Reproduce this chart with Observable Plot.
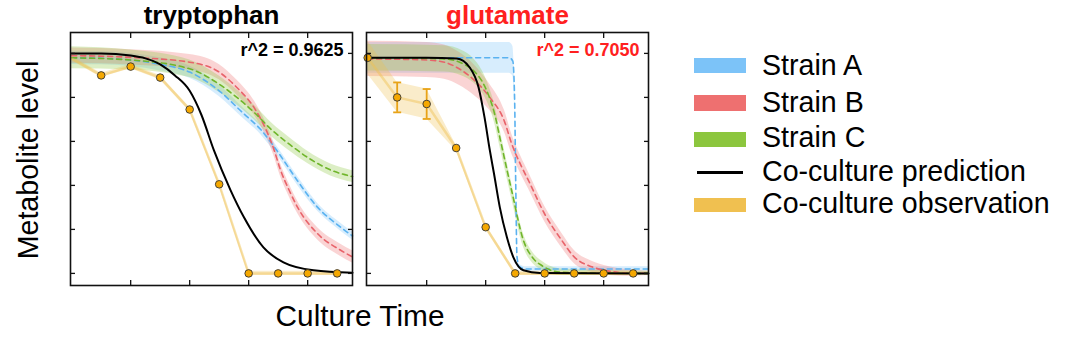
<!DOCTYPE html>
<html><head><meta charset="utf-8">
<script src="https://cdn.jsdelivr.net/npm/d3@7"></script>
<script src="https://cdn.jsdelivr.net/npm/@observablehq/plot@0.6"></script>
<style>
body{margin:0;background:#fff;font-family:"Liberation Sans",Arial,sans-serif;}
#wrap{position:relative;width:1073px;height:351px;overflow:hidden;background:#fff;}
.abs{position:absolute;white-space:nowrap;color:#000;}
.lbl{font-size:28.6px;line-height:28px;}
</style></head><body><div id="wrap"></div>
<script>
// ---------- data: [time, level, half-width of band] ----------
const panelTitles = ["tryptophan", "glutamate"];
const panelR2 = ["r^2 = 0.9625", "r^2 = 0.7050"];
const xTicks = [1, 2, 3, 4];
const yTicks = [0, 0.2, 0.4, 0.6, 0.8, 1.0];
const seriesNames = ["Strain A", "Strain B", "Strain C", "Co-culture prediction", "Co-culture observation"];

const trpStrainA = [[0,0.98,0.03],[0.5,0.978,0.03],[1,0.97,0.03],[1.5,0.95,0.03],[2,0.915,0.028],[2.5,0.83,0.026],[2.9,0.73,0.024],[3.2,0.655,0.022],[3.5,0.55,0.02],[3.83,0.42,0.02],[4.17,0.3,0.018],[4.56,0.21,0.018],[4.76,0.17,0.018]];
const trpStrainB = [[0,0.99,0.035],[1,0.982,0.035],[2,0.96,0.035],[2.5,0.915,0.035],[2.8,0.845,0.034],[3.1,0.75,0.032],[3.3,0.65,0.03],[3.42,0.57,0.03],[3.54,0.47,0.03],[3.7,0.37,0.029],[3.83,0.3,0.028],[4.17,0.18,0.028],[4.56,0.105,0.028],[4.76,0.075,0.028]];
const trpStrainC = [[0,0.98,0.05],[1,0.97,0.045],[2,0.93,0.04],[2.5,0.86,0.037],[2.8,0.8,0.035],[3.1,0.73,0.033],[3.4,0.65,0.031],[3.7,0.585,0.03],[4,0.527,0.028],[4.39,0.47,0.027],[4.76,0.44,0.027]];
const trpPred = [[0,1],[0.5,1],[1,0.99],[1.5,0.95],[1.75,0.9],[2,0.83],[2.2,0.72],[2.41,0.56],[2.69,0.38],[2.92,0.255],[3.25,0.118],[3.59,0.05],[4.1,0.014],[4.76,0.003]];
const trpObs = [[0,0.977,0.01],[0.5,0.9,0.01],[1,0.94,0.01],[1.5,0.89,0.01],[2,0.745,0.01],[2.5,0.405,0.01],[3,0,0.01],[3.5,0,0.01],[4,0,0.01],[4.5,0,0.01]];

const gluStrainA = [[0,0.98,0.07],[2.4,0.98,0.07],[2.46,0.965,0.068],[2.49,0.8,0.05],[2.51,0.4,0.03],[2.53,0.08,0.015],[2.57,0.03,0.012],[2.7,0.02,0.01],[4.76,0.02,0.01]];
const gluStrainB = [[0,0.975,0.08],[1,0.97,0.08],[1.3,0.96,0.078],[1.55,0.93,0.075],[1.8,0.88,0.07],[2.07,0.8,0.06],[2.32,0.69,0.05],[2.44,0.59,0.045],[2.6,0.49,0.04],[2.73,0.42,0.038],[3,0.27,0.035],[3.29,0.15,0.033],[3.5,0.075,0.03],[3.8,0.03,0.025],[4.1,0.01,0.02],[4.4,0.002,0.015],[4.76,0,0.01]];
const gluStrainC = [[0,0.98,0.06],[1.3,0.975,0.06],[1.6,0.955,0.058],[1.8,0.92,0.055],[1.93,0.877,0.05],[2.05,0.81,0.045],[2.15,0.727,0.042],[2.25,0.605,0.04],[2.44,0.377,0.035],[2.64,0.15,0.03],[2.8,0.07,0.025],[2.95,0.036,0.02],[3.29,0.005,0.015],[4.76,0,0.01]];
const gluPred = [[0,0.98],[1,0.98],[1.51,0.977],[1.73,0.936],[1.88,0.845],[1.98,0.71],[2.07,0.56],[2.14,0.455],[2.24,0.3],[2.36,0.164],[2.47,0.073],[2.64,0.014],[2.92,0.002],[4.76,0]];
const gluObs = [[0,0.98,0.075],[0.5,0.8,0.068],[1,0.77,0.068],[1.5,0.57,0.012],[2,0.21,0.01],[2.5,0,0.01],[3,0,0.01],[3.5,0,0.01],[4,0,0.01],[4.5,0,0.01]];

const colors = {A:"#7cc3f8", B:"#ee7070", C:"#8cc63e", obs:"#f0c050"};
const lineColors = {A:"#5ab2f0", B:"#e8636a", C:"#6fb52a"};

const panels = [
  {title: panelTitles[0], titleColor:"#000", r2: panelR2[0], r2Color:"#000", A:trpStrainA, B:trpStrainB, C:trpStrainC, pred:trpPred, obs:trpObs, dotFrom:0.25, left:60},
  {title: panelTitles[1], titleColor:"#ff2020", r2: panelR2[1], r2Color:"#ff2020", A:gluStrainA, B:gluStrainB, C:gluStrainC, pred:gluPred, obs:gluObs, dotFrom:-1, left:356}
];

const capSymbol = {draw(ctx){ ctx.moveTo(-4,0); ctx.lineTo(4,0); }};
const FONT = "Liberation Sans, Arial, sans-serif";

function makePanel(p){
  const marks = [];
  for (const k of ["A","B","C"]) {
    marks.push(Plot.areaY(p[k], {x:d=>d[0], y1:d=>d[1]-d[2], y2:d=>d[1]+d[2], fill:colors[k], fillOpacity:0.3, curve:"monotone-x"}));
  }
  marks.push(Plot.areaY(p.obs, {x:d=>d[0], y1:d=>d[1]-d[2], y2:d=>d[1]+d[2], fill:colors.obs, fillOpacity:0.3}));
  for (const k of ["A","B","C"]) {
    marks.push(Plot.lineY(p[k], {x:d=>d[0], y:d=>d[1], stroke:lineColors[k], strokeWidth:1.6, strokeDasharray:"5,4", curve:"monotone-x"}));
  }
  marks.push(Plot.lineY(p.obs, {x:d=>d[0], y:d=>d[1], stroke:colors.obs, strokeOpacity:0.45, strokeWidth:2.5}));
  marks.push(Plot.lineY(p.pred, {x:d=>d[0], y:d=>d[1], stroke:"#000", strokeWidth:2, curve:"monotone-x"}));
  const errs = p.obs.filter(d => d[2] > 0.03 && d[0] > 0);
  marks.push(Plot.ruleX(errs, {x:d=>d[0], y1:d=>d[1]-d[2], y2:d=>d[1]+d[2], stroke:"#e8a317", strokeWidth:1.8}));
  marks.push(Plot.dot(errs, {x:d=>d[0], y:d=>d[1]+d[2], symbol:capSymbol, stroke:"#e8a317", strokeWidth:1.8}));
  marks.push(Plot.dot(errs, {x:d=>d[0], y:d=>d[1]-d[2], symbol:capSymbol, stroke:"#e8a317", strokeWidth:1.8}));
  marks.push(Plot.dot(p.obs.filter(d => d[0] > p.dotFrom), {x:d=>d[0], y:d=>d[1], r:3.8, fill:"#f5a800", stroke:"#333", strokeWidth:0.9}));
  marks.push(Plot.frame({stroke:"#111", strokeWidth:1.6}));
  const tk = {stroke:"#111", strokeWidth:1.3, tickSize:-5, tickFormat:()=>"", label:null};
  marks.push(Plot.axisX({...tk, anchor:"bottom", ticks:xTicks}));
  marks.push(Plot.axisX({...tk, anchor:"top", ticks:xTicks}));
  marks.push(Plot.axisY({...tk, anchor:"left", ticks:yTicks}));
  marks.push(Plot.axisY({...tk, anchor:"right", ticks:yTicks}));
  marks.push(Plot.text([p.title], {text:d=>d, frameAnchor:"top", dy:-9, lineAnchor:"bottom", fontSize:26, fontWeight:"bold", fill:p.titleColor}));
  marks.push(Plot.text([p.r2], {text:d=>d, frameAnchor:"top-right", dx:-9, dy:18, textAnchor:"end", lineAnchor:"middle", fontSize:18, fontWeight:"bold", fill:p.r2Color}));
  const svg = Plot.plot({
    width:300, height:290, marginLeft:10, marginRight:8, marginTop:32, marginBottom:5,
    style:{fontFamily:FONT, background:"transparent", overflow:"visible"},
    x:{domain:[-0.02, 4.76]}, y:{domain:[-0.055, 1.095]},
    marks
  });
  svg.style.position = "absolute";
  svg.style.left = p.left + "px";
  svg.style.top = "0px";
  svg.querySelectorAll("text").forEach(t => { if (t.textContent.startsWith("r^2")) t.setAttribute("font-size", "18"); });
  return svg;
}

const wrap = document.getElementById("wrap");
for (const p of panels) wrap.appendChild(makePanel(p));

function addDiv(text, css, cls="abs lbl"){
  const d = document.createElement("div");
  d.className = cls; d.textContent = text;
  Object.assign(d.style, css);
  wrap.appendChild(d);
  return d;
}
addDiv("Culture Time", {left:"360px", top:"302px", transform:"translateX(-50%)", fontSize:"29.8px"});
addDiv("Metabolite level", {left:"28px", top:"160px", transform:"translate(-50%,-50%) rotate(-90deg)"});

// legend
const legendRows = [
  {name:seriesNames[0], kind:"box", color:colors.A, boxTop:58, boxH:15, textTop:51},
  {name:seriesNames[1], kind:"box", color:colors.B, boxTop:95, boxH:16, textTop:88},
  {name:seriesNames[2], kind:"box", color:colors.C, boxTop:132, boxH:15, textTop:123},
  {name:seriesNames[3], kind:"line", color:"#000", boxTop:171, boxH:3, textTop:157},
  {name:seriesNames[4], kind:"box", color:colors.obs, boxTop:198, boxH:14, textTop:189}
];
for (const r of legendRows) {
  const s = document.createElement("div");
  s.className = "abs";
  Object.assign(s.style, {left: r.kind==="line" ? "697px" : "694px", width: r.kind==="line" ? "46px" : "52px", top:r.boxTop+"px", height:r.boxH+"px", background:r.color});
  wrap.appendChild(s);
  addDiv(r.name, {left:"762px", top:r.textTop+"px"});
}
</script>
</body></html>
